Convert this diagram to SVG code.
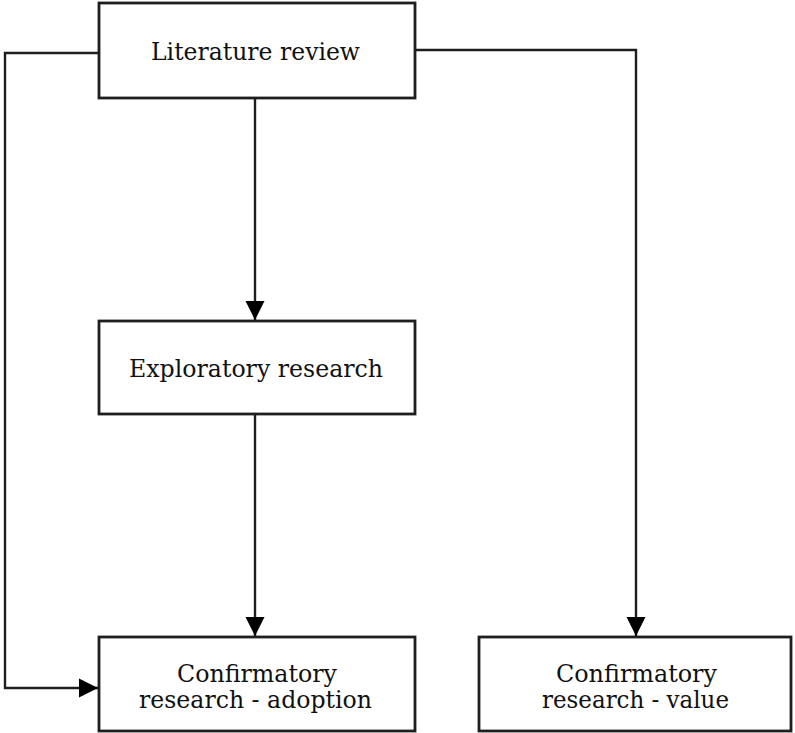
<svg xmlns="http://www.w3.org/2000/svg" width="795" height="733" viewBox="0 0 795 733">
  <style>
    .box { fill: #ffffff; stroke: #1e1e1e; stroke-width: 2.8; }
    .wire { fill: none; stroke: #1e1e1e; stroke-width: 2.4; }
    .label { font-family: "DejaVu Serif", "Liberation Serif", serif; font-size: 24px; fill: #111111; text-anchor: middle; }
  </style>
  <defs>
    <marker id="head" viewBox="0 0 10 10" refX="10" refY="5" markerWidth="8" markerHeight="8" markerUnits="strokeWidth" orient="auto">
      <path d="M0,0 L10,5 L0,10 Z" fill="#000000"/>
    </marker>
  </defs>

  <rect width="795" height="733" fill="#ffffff"/>

  <g id="connectors">
    <!-- review -> exploratory -->
    <path class="wire" d="M255,98 V320" marker-end="url(#head)"/>
    <!-- exploratory -> adoption -->
    <path class="wire" d="M255,414 V636" marker-end="url(#head)"/>
    <!-- review -> adoption (left loop) -->
    <path class="wire" d="M99,53 H5 V688 H98" marker-end="url(#head)"/>
    <!-- review -> value (right loop) -->
    <path class="wire" d="M415,50 H636 V636" marker-end="url(#head)"/>
  </g>

  <g id="literature-review">
    <rect class="box" x="99" y="3" width="316" height="95"/>
    <text class="label" x="255.5" y="60" textLength="209" lengthAdjust="spacingAndGlyphs">Literature review</text>
  </g>

  <g id="exploratory-research">
    <rect class="box" x="99" y="321" width="316" height="93"/>
    <text class="label" x="256" y="377" textLength="254" lengthAdjust="spacingAndGlyphs">Exploratory research</text>
  </g>

  <g id="confirmatory-adoption">
    <rect class="box" x="99" y="637" width="316" height="94"/>
    <text class="label" x="257" y="682" textLength="160" lengthAdjust="spacingAndGlyphs">Confirmatory</text>
    <text class="label" x="255.5" y="708" textLength="233" lengthAdjust="spacingAndGlyphs">research - adoption</text>
  </g>

  <g id="confirmatory-value">
    <rect class="box" x="479" y="637" width="312" height="94"/>
    <text class="label" x="636.5" y="682" textLength="161" lengthAdjust="spacingAndGlyphs">Confirmatory</text>
    <text class="label" x="635.5" y="708" textLength="187" lengthAdjust="spacingAndGlyphs">research - value</text>
  </g>
</svg>
